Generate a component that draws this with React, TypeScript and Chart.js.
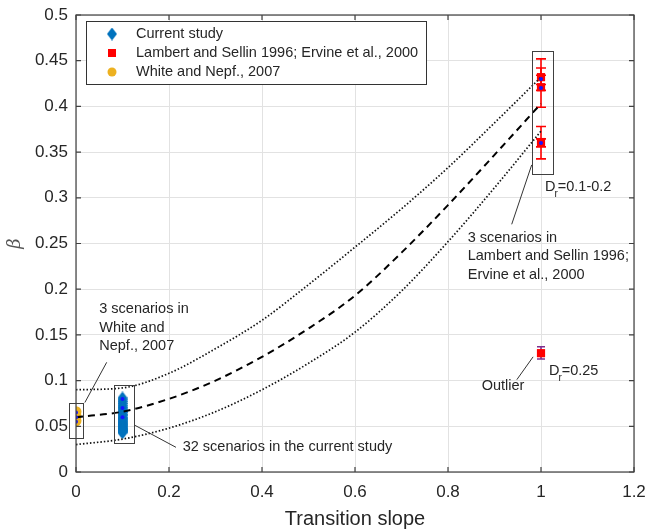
import React, { useEffect, useRef } from 'react';
import { Chart, registerables } from 'chart.js';

Chart.register(...registerables);

// ---------- data ----------
const X_TICKS = [0, 0.2, 0.4, 0.6, 0.8, 1, 1.2];
const X_TICK_LABELS = ['0', '0.2', '0.4', '0.6', '0.8', '1', '1.2'];
const Y_TICKS = [0, 0.05, 0.1, 0.15, 0.2, 0.25, 0.3, 0.35, 0.4, 0.45, 0.5];
const Y_TICK_LABELS = ['0', '0.05', '0.1', '0.15', '0.2', '0.25', '0.3', '0.35', '0.4', '0.45', '0.5'];

const FIT_X = [0, 0.1, 0.2, 0.3, 0.4, 0.5, 0.6, 0.7, 0.8, 0.9, 1];
const FIT_MEAN = [0.060, 0.066, 0.080, 0.100, 0.126, 0.157, 0.193, 0.240, 0.292, 0.347, 0.403];
const FIT_UPPER = [0.090, 0.092, 0.108, 0.135, 0.166, 0.205, 0.246, 0.288, 0.333, 0.382, 0.432];
const FIT_LOWER = [0.030, 0.036, 0.048, 0.066, 0.090, 0.119, 0.153, 0.198, 0.252, 0.311, 0.373];

const CURRENT_X = 0.1;
const CURRENT_BETA = [
  0.081, 0.079, 0.077, 0.075, 0.073, 0.071, 0.070, 0.068,
  0.066, 0.065, 0.063, 0.062, 0.060, 0.059, 0.058, 0.057,
  0.056, 0.055, 0.054, 0.053, 0.052, 0.051, 0.050, 0.049,
  0.048, 0.047, 0.047, 0.046, 0.045, 0.045, 0.044, 0.043,
];

const WN_X = 0;
const WN_BETA = [0.066, 0.061, 0.056];

const LS_X = [1, 1, 1, 1];
const LS_BETA = [0.432, 0.421, 0.361, 0.130];

const MODEL_X = [0, 0, 0, 0.1, 0.1, 0.1, 1, 1, 1];
const MODEL_BETA = [0.065, 0.060, 0.055, 0.080, 0.070, 0.060, 0.430, 0.420, 0.360];

const LS_ERR_X = [1, 1, 1, 1, 1];
const LS_ERR_LOW = [0.4175, 0.399, 0.424, 0.3426, 0.3557];
const LS_ERR_HIGH = [0.452, 0.442, 0.434, 0.378, 0.3645];
const OUT_ERR_X = [1];
const OUT_ERR_LOW = [0.1236];
const OUT_ERR_HIGH = [0.137];

const LEGEND_LABELS = ['Current study', 'Lambert and Sellin 1996; Ervine et al., 2000', 'White and Nepf., 2007'];

// annotations (data coordinates)
const BOXES = [
  { x0: -0.015, x1: 0.015, y0: 0.038, y1: 0.076 },
  { x0: 0.082, x1: 0.125, y0: 0.032, y1: 0.095 },
  { x0: 0.98, x1: 1.025, y0: 0.326, y1: 0.461 },
];
const LEADERS = [
  [0.019, 0.076, 0.066, 0.120],
  [0.127, 0.051, 0.215, 0.027],
  [0.980, 0.336, 0.937, 0.271],
  [0.983, 0.126, 0.948, 0.101],
];
const NOTES = [
  { x: 0.050, y: 0.178, lines: ['3 scenarios in', 'White and', 'Nepf., 2007'] },
  { x: 0.2295, y: 0.0273, lines: ['32 scenarios in the current study'] },
  { x: 0.8424, y: 0.2564, lines: ['3 scenarios in', 'Lambert and Sellin 1996;', 'Ervine et al., 2000'] },
  { x: 0.8725, y: 0.0938, lines: ['Outlier'] },
];
const SUB_NOTES = [
  { x: 1.0086, y: 0.3123, main: 'D', sub: 'r', rest: '=0.1-0.2' },
  { x: 1.017, y: 0.111, main: 'D', sub: 'r', rest: '=0.25' },
];

// ---------- styles ----------
const FONT = '"Liberation Sans", Arial, Helvetica, sans-serif';
const TEXT = '#262626';
const BLUE = '#0072BD';
const RED = '#FF0000';
const ORANGE = '#EDB120';
const PURPLE = '#7E2F8E';
const DOT = '#1414ff';

function makeDiamond(w: number, h: number, color: string) {
  const c = document.createElement('canvas');
  c.width = w;
  c.height = h;
  const g = c.getContext('2d')!;
  g.fillStyle = color;
  g.beginPath();
  g.moveTo(w / 2, 0);
  g.lineTo(w, h / 2);
  g.lineTo(w / 2, h);
  g.lineTo(0, h / 2);
  g.closePath();
  g.fill();
  return c;
}

export default function App() {
  const ref = useRef<HTMLCanvasElement>(null);

  useEffect(() => {
    const canvas = ref.current;
    if (!canvas) return;
    const diamond = makeDiamond(10, 13, BLUE);

    const decor = {
      id: 'decor',
      beforeDatasetsDraw(chart: any) {
        const { ctx, scales } = chart;
        const xs = scales.x, ys = scales.y;
        const bar = (xv: number, lo: number, hi: number, color: string, cap: number) => {
          const px = xs.getPixelForValue(xv);
          const p1 = ys.getPixelForValue(lo);
          const p2 = ys.getPixelForValue(hi);
          ctx.save();
          ctx.strokeStyle = color;
          ctx.lineWidth = 1.6;
          ctx.beginPath();
          ctx.moveTo(px, p1); ctx.lineTo(px, p2);
          ctx.moveTo(px - cap, p1); ctx.lineTo(px + cap, p1);
          ctx.moveTo(px - cap, p2); ctx.lineTo(px + cap, p2);
          ctx.stroke();
          ctx.restore();
        };
        LS_ERR_X.forEach((x, i) => bar(x, LS_ERR_LOW[i], LS_ERR_HIGH[i], RED, 5));
        OUT_ERR_X.forEach((x, i) => bar(x, OUT_ERR_LOW[i], OUT_ERR_HIGH[i], PURPLE, 4));
      },
      afterDatasetsDraw(chart: any) {
        const { ctx, scales } = chart;
        const xs = scales.x, ys = scales.y;
        const X = (v: number) => xs.getPixelForValue(v);
        const Y = (v: number) => ys.getPixelForValue(v);
        ctx.save();
        ctx.strokeStyle = '#404040';
        ctx.lineWidth = 1;
        BOXES.forEach((b) => {
          ctx.strokeRect(Math.round(X(b.x0)) + 0.5, Math.round(Y(b.y1)) + 0.5,
            Math.round(X(b.x1) - X(b.x0)), Math.round(Y(b.y0) - Y(b.y1)));
        });
        ctx.strokeStyle = '#333';
        LEADERS.forEach((l) => {
          ctx.beginPath();
          ctx.moveTo(X(l[0]), Y(l[1]));
          ctx.lineTo(X(l[2]), Y(l[3]));
          ctx.stroke();
        });
        ctx.fillStyle = TEXT;
        ctx.font = `14.5px ${FONT}`;
        ctx.textAlign = 'left';
        ctx.textBaseline = 'middle';
        NOTES.forEach((n) => {
          n.lines.forEach((t, i) => ctx.fillText(t, X(n.x), Y(n.y) + i * 18.5));
        });
        SUB_NOTES.forEach((n) => {
          const x0 = X(n.x), y0 = Y(n.y);
          ctx.font = `14.5px ${FONT}`;
          ctx.fillText(n.main, x0, y0);
          const w = ctx.measureText(n.main).width;
          ctx.font = `10px ${FONT}`;
          ctx.fillText(n.sub, x0 + w - 1, y0 + 8);
          const ws = ctx.measureText(n.sub).width;
          ctx.font = `14.5px ${FONT}`;
          ctx.fillText(n.rest, x0 + w + ws - 1, y0);
        });
        ctx.restore();
      },
      afterDraw(chart: any) {
        const { ctx, chartArea: a, scales } = chart;
        const xs = scales.x, ys = scales.y;
        ctx.save();
        // frame
        ctx.strokeStyle = '#404040';
        ctx.lineWidth = 1.2;
        ctx.strokeRect(a.left, a.top, a.right - a.left, a.bottom - a.top);
        // inward ticks
        const tl = 5;
        ctx.beginPath();
        X_TICKS.forEach((v) => {
          const px = xs.getPixelForValue(v);
          ctx.moveTo(px, a.bottom); ctx.lineTo(px, a.bottom - tl);
          ctx.moveTo(px, a.top); ctx.lineTo(px, a.top + tl);
        });
        Y_TICKS.forEach((v) => {
          const py = ys.getPixelForValue(v);
          ctx.moveTo(a.left, py); ctx.lineTo(a.left + tl, py);
          ctx.moveTo(a.right, py); ctx.lineTo(a.right - tl, py);
        });
        ctx.stroke();

        // legend
        ctx.font = `14.5px ${FONT}`;
        const maxW = Math.max(...LEGEND_LABELS.map((t) => ctx.measureText(t).width));
        const lx = a.left + 10, ly = a.top + 6;
        const textX = lx + 50;
        const lw = textX - lx + maxW + 8;
        const lh = 63;
        ctx.fillStyle = '#fff';
        ctx.fillRect(lx, ly, lw, lh);
        ctx.strokeStyle = '#333';
        ctx.lineWidth = 1;
        ctx.strokeRect(Math.round(lx) + 0.5, Math.round(ly) + 0.5, Math.round(lw), lh);
        const mx = lx + 26;
        const rows = [ly + 13, ly + 32, ly + 51];
        ctx.drawImage(diamond, mx - 5, rows[0] - 6.5);
        ctx.fillStyle = RED;
        ctx.fillRect(mx - 4, rows[1] - 4, 8, 8);
        ctx.fillStyle = ORANGE;
        ctx.beginPath();
        ctx.arc(mx, rows[2], 4.5, 0, Math.PI * 2);
        ctx.fill();
        ctx.fillStyle = TEXT;
        ctx.textAlign = 'left';
        ctx.textBaseline = 'middle';
        LEGEND_LABELS.forEach((t, i) => ctx.fillText(t, textX, rows[i]));
        ctx.restore();
      },
    };

    const chart = new Chart(canvas, {
      type: 'scatter',
      data: {
        datasets: [
          {
            label: 'model',
            data: MODEL_X.map((x, i) => ({ x, y: MODEL_BETA[i] })),
            pointRadius: 2,
            pointStyle: 'circle',
            backgroundColor: DOT,
            borderWidth: 0,
            order: 0,
          },
          {
            label: 'fit',
            data: FIT_X.map((x, i) => ({ x, y: FIT_MEAN[i] })),
            showLine: true,
            borderColor: '#000',
            borderWidth: 2,
            borderDash: [7, 5],
            pointRadius: 0,
            cubicInterpolationMode: 'monotone',
            order: 1,
          },
          {
            label: 'upper',
            data: FIT_X.map((x, i) => ({ x, y: FIT_UPPER[i] })),
            showLine: true,
            borderColor: '#111',
            borderWidth: 1.7,
            borderDash: [1.5, 2],
            pointRadius: 0,
            cubicInterpolationMode: 'monotone',
            order: 1,
          },
          {
            label: 'lower',
            data: FIT_X.map((x, i) => ({ x, y: FIT_LOWER[i] })),
            showLine: true,
            borderColor: '#111',
            borderWidth: 1.7,
            borderDash: [1.5, 2],
            pointRadius: 0,
            cubicInterpolationMode: 'monotone',
            order: 1,
          },
          {
            label: LEGEND_LABELS[0],
            data: CURRENT_BETA.map((y) => ({ x: CURRENT_X, y })),
            pointStyle: diamond,
            pointRadius: 6,
            order: 3,
          },
          {
            label: LEGEND_LABELS[1],
            data: LS_X.map((x, i) => ({ x, y: LS_BETA[i] })),
            pointStyle: 'rect',
            pointRadius: 5.8,
            backgroundColor: RED,
            borderWidth: 0,
            order: 3,
          },
          {
            label: LEGEND_LABELS[2],
            data: WN_BETA.map((y) => ({ x: WN_X, y })),
            pointStyle: 'circle',
            pointRadius: 5.5,
            backgroundColor: ORANGE,
            borderWidth: 0,
            order: 3,
          },
        ],
      },
      options: {
        animation: false,
        responsive: false,
        maintainAspectRatio: false,
        layout: { padding: { left: 0, top: 15, right: 13, bottom: 0 } },
        plugins: { legend: { display: false }, tooltip: { enabled: false } },
        scales: {
          x: {
            type: 'linear',
            min: 0,
            max: 1.2,
            afterBuildTicks: (s: any) => { s.ticks = X_TICKS.map((v) => ({ value: v })); },
            afterFit: (s: any) => { s.height = 59; s.paddingLeft = 0; s.paddingRight = 0; },
            grid: { color: '#e2e2e2', drawTicks: false, lineWidth: 1 },
            border: { display: false },
            ticks: {
              padding: 10,
              color: TEXT,
              font: { family: FONT, size: 17 },
              maxRotation: 0,
              callback: (v: any) => X_TICK_LABELS[X_TICKS.findIndex((t) => Math.abs(t - v) < 1e-9)] ?? '',
            },
            title: {
              display: true,
              text: 'Transition slope',
              color: TEXT,
              font: { family: FONT, size: 20 },
              padding: { top: 0, bottom: 0 },
            },
          },
          y: {
            type: 'linear',
            min: 0,
            max: 0.5,
            afterBuildTicks: (s: any) => { s.ticks = Y_TICKS.map((v) => ({ value: v })); },
            afterFit: (s: any) => { s.width = 76; s.paddingTop = 0; s.paddingBottom = 0; },
            grid: { color: '#e2e2e2', drawTicks: false, lineWidth: 1 },
            border: { display: false },
            ticks: {
              padding: 8,
              color: TEXT,
              font: { family: FONT, size: 17 },
              callback: (v: any) => Y_TICK_LABELS[Y_TICKS.findIndex((t) => Math.abs(t - v) < 1e-9)] ?? '',
            },
            title: {
              display: true,
              text: 'β',
              color: '#555',
              font: { family: '"DejaVu Serif", serif', size: 18, style: 'italic' },
              padding: { top: 5, bottom: 0 },
            },
          },
        },
      },
      plugins: [decor],
    } as any);

    return () => chart.destroy();
  }, []);

  return (
    <div style={{ position: 'absolute', left: 0, top: 0, width: 647, height: 531, background: '#fff' }}>
      <canvas ref={ref} width={647} height={531} style={{ display: 'block' }} />
    </div>
  );
}
